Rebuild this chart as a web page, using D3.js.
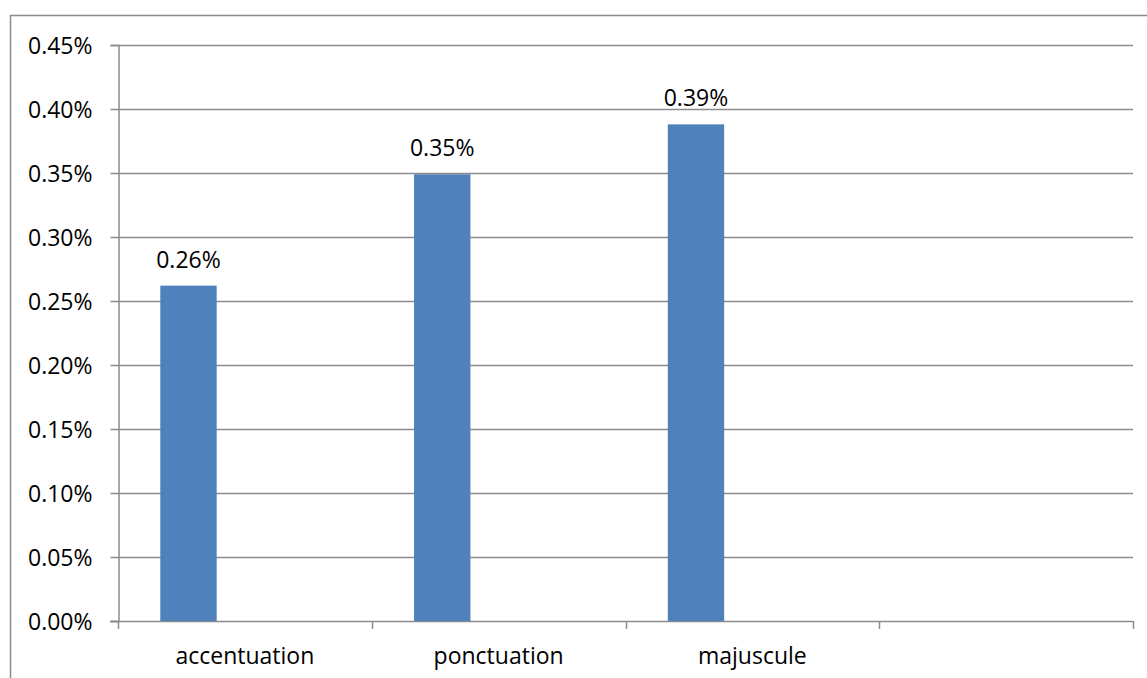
<!DOCTYPE html>
<html>
<head>
<meta charset="utf-8">
<script src="https://cdn.jsdelivr.net/npm/d3@7"></script>
<style>
  html, body { margin: 0; padding: 0; background: #fff; }
  svg { display: block; }
  text { font-family: "Open Sans", "Noto Sans", sans-serif; fill: #000; }
</style>
</head>
<body>
<svg id="chart" width="1147" height="678"></svg>
<script>
// Error rates by type of correction
const categories = ["accentuation", "ponctuation", "majuscule", ""];
const rates = [0.00262, 0.00349, 0.00388, null];
const seriesSlots = ["s1", "s2", "s3"]; // clustered layout: three slots per category
const yTicks = [0, 0.0005, 0.001, 0.0015, 0.002, 0.0025, 0.003, 0.0035, 0.004, 0.0045];

const svg = d3.select("#chart");
const plotLeft = 118, plotRight = 1133, plotTop = 45, plotBottom = 621;
const grey = "#8c8c8c";
const barColor = "#4f81bd";
const fontSize = 23;
const pct = d3.format(".2%");

// outer frame
svg.append("rect")
  .attr("x", 10.5).attr("y", 15.5)
  .attr("width", 1150).attr("height", 700)
  .attr("fill", "none").attr("stroke", grey).attr("stroke-width", 1.5);

const x = d3.scaleBand().domain(categories).range([plotLeft, plotRight]).padding(0);
const xs = d3.scaleBand().domain(seriesSlots).range([0, x.bandwidth()])
  .paddingInner(0).paddingOuter(0.75);
const y = d3.scaleLinear().domain([0, 0.0045]).range([plotBottom, plotTop]);

// horizontal gridlines
svg.append("g").selectAll("line").data(yTicks.filter(d => d > 0)).join("line")
  .attr("x1", plotLeft).attr("x2", plotRight)
  .attr("y1", d => Math.round(y(d)) + 0.5).attr("y2", d => Math.round(y(d)) + 0.5)
  .attr("stroke", grey).attr("stroke-width", 1.5);

// y axis
const yAxis = svg.append("g")
  .attr("transform", `translate(${plotLeft + 0.5},0)`)
  .call(d3.axisLeft(y).tickValues(yTicks).tickFormat(pct).tickSize(8).tickPadding(18));
yAxis.select(".domain").attr("stroke", grey).attr("stroke-width", 1.5);
yAxis.selectAll(".tick line").attr("stroke", grey).attr("stroke-width", 1.5);
yAxis.selectAll(".tick text")
  .style("font-size", fontSize + "px").style("font-family", "'Open Sans', sans-serif")
  .attr("fill", "#000").attr("dy", "0.36em");

// x axis line and boundary ticks
const boundaries = categories.map(c => x(c)).concat([plotRight]);
svg.append("line")
  .attr("x1", plotLeft - 8).attr("x2", plotRight)
  .attr("y1", plotBottom + 0.5).attr("y2", plotBottom + 0.5)
  .attr("stroke", grey).attr("stroke-width", 1.5);
svg.append("g").selectAll("line").data(boundaries).join("line")
  .attr("x1", d => Math.round(d) + 0.5).attr("x2", d => Math.round(d) + 0.5)
  .attr("y1", plotBottom).attr("y2", plotBottom + 8)
  .attr("stroke", grey).attr("stroke-width", 1.5);

// category labels
svg.append("g").selectAll("text").data(categories).join("text")
  .attr("x", d => x(d) + x.bandwidth() / 2)
  .attr("y", 664)
  .attr("text-anchor", "middle")
  .style("font-size", fontSize + "px")
  .text(d => d);

// bars
const data = categories.map((c, i) => ({ c, v: rates[i] })).filter(d => d.v != null);
svg.append("g").selectAll("rect").data(data).join("rect")
  .attr("x", d => x(d.c) + xs("s1"))
  .attr("width", xs.bandwidth())
  .attr("y", d => y(d.v))
  .attr("height", d => y(0) - y(d.v))
  .attr("fill", barColor);

// value labels
svg.append("g").selectAll("text").data(data).join("text")
  .attr("x", d => x(d.c) + xs("s1") + xs.bandwidth() / 2)
  .attr("y", d => y(d.v) - 18)
  .attr("text-anchor", "middle")
  .style("font-size", fontSize + "px")
  .text(d => pct(d.v));
</script>
</body>
</html>
